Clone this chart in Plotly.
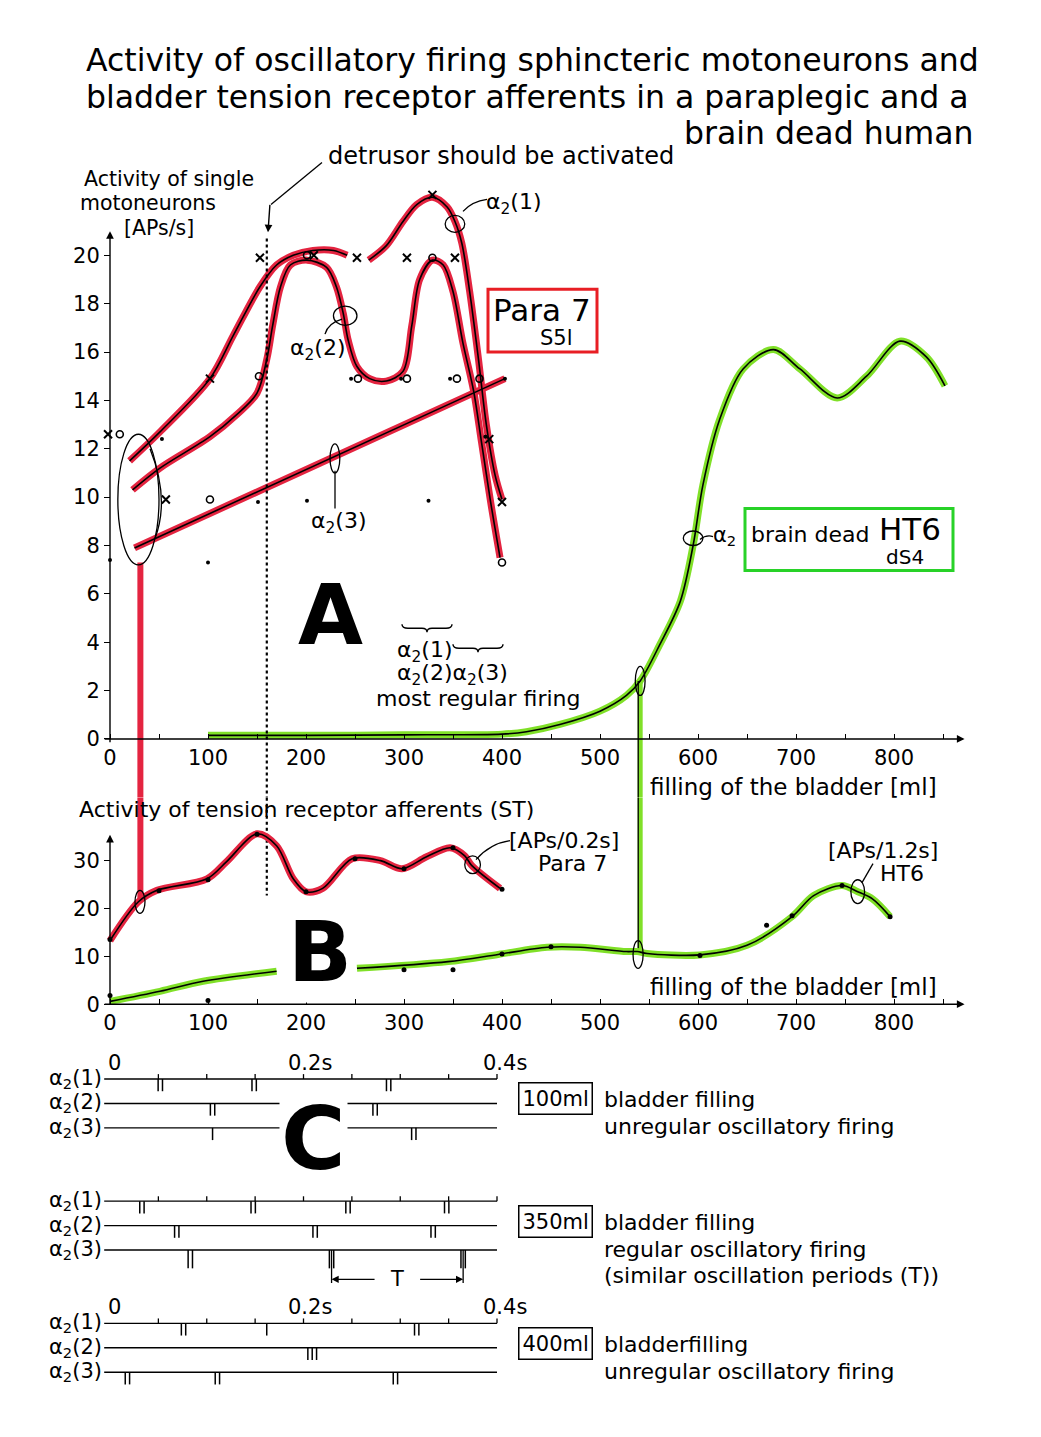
import plotly.graph_objects as go

W, H = 1041, 1437
FONT = "DejaVu Sans"
RED = "rgb(228, 36, 64)"
GREEN = "rgb(128, 224, 40)"
BOXRED = "rgb(232, 30, 36)"
BOXGREEN = "rgb(40, 210, 40)"

# ---------------- DATA ----------------
# Panel A: activity of single motoneurons [APs/s] vs. filling of the bladder [ml]
# Para 7 (paraplegic), alpha2(1)  (None = pen lifted)
a1_x = [20, 51, 102, 126, 153, 170, 187, 207, 228, 242, None, 264, 282, 299, 313, 329, 344, 352, 359, 367, 376, 384, 393, 400]
a1_y = [11.5, 12.7, 14.9, 16.7, 18.7, 19.6, 20.0, 20.2, 20.2, 20.0, None, 19.8, 20.4, 21.4, 22.1, 22.4, 22.0, 21.4, 20.5, 18.5, 15.7, 13.0, 10.9, 9.9]
# alpha2(2)
a2_x = [23, 51, 102, 129, 150, 160, 166, 174, 184, 201, 221, 231, 238, 243, 252, 265, 282, 299, 308, 316, 329, 340, 350, 360, 371, 379, 388, 398]
a2_y = [10.3, 11.2, 12.5, 13.4, 14.3, 15.7, 17.1, 18.7, 19.6, 19.8, 19.5, 18.7, 17.6, 16.5, 15.4, 14.9, 14.8, 15.2, 17.1, 19.0, 19.8, 19.6, 18.5, 16.4, 14.4, 12.3, 9.9, 7.5]
# alpha2(3)
a3_x = [25, 403]
a3_y = [7.9, 14.9]
# measured points
cross_x = [-2, 57, 102, 153, 208, 252, 303, 329, 352, 387, 400]
cross_y = [12.6, 9.9, 14.9, 19.9, 20.0, 19.9, 19.9, 22.5, 19.9, 12.4, 9.8]
ring_x = [10, 102, 152, 201, 253, 303, 329, 354, 377, 400]
ring_y = [12.6, 9.9, 15.0, 20.0, 14.9, 14.9, 19.9, 14.9, 14.9, 7.3]
dot_x = [0, 53, 100, 151, 201, 246, 297, 325, 347, 383, 403]
dot_y = [7.4, 12.4, 7.3, 9.8, 9.85, 14.9, 14.9, 9.85, 14.9, 12.5, 14.9]
# brain dead HT6, alpha2
gA_x = [100, 200, 300, 400, 425, 459, 500, 527, 541, 561, 582, 595, 605, 622, 646, 677, 704, 742, 772, 806, 833, 852]
gA_y = [0.15, 0.15, 0.17, 0.2, 0.3, 0.6, 1.15, 1.8, 2.4, 3.9, 5.7, 8.0, 10.5, 13.2, 15.3, 16.1, 15.3, 14.1, 15.0, 16.45, 15.8, 14.6]

# Panel B: activity of tension receptor afferents (ST)
rB_x = [0, 29, 48, 99, 119, 150, 170, 187, 200, 217, 247, 276, 298, 323, 347, 362, 369, 398]
rB_y = [13.3, 21.4, 23.8, 26.2, 29.8, 35.6, 33.1, 26.2, 23.5, 24.2, 30.4, 30.0, 28.3, 30.8, 32.7, 31.0, 29.0, 24.2]
rBpt_x = [0, 50, 100, 150, 200, 250, 300, 350, 400]
rBpt_y = [13.5, 23.7, 26.0, 35.5, 23.5, 30.4, 28.3, 32.7, 24.0]
gB_x = [0, 51, 95, 170, None, 252, 345, 396, 446, 480, 527, 538, 548, 602, 650, 696, 718, 747, 763, 778, 796]
gB_y = [0.6, 2.7, 4.8, 6.9, None, 7.5, 8.9, 10.4, 11.9, 11.9, 11.0, 11.0, 10.6, 10.3, 12.3, 18.3, 22.7, 24.8, 23.5, 22.0, 18.3]
gBpt_x = [0, 100, 300, 350, 400, 450, 602, 670, 696, 747, 796]
gBpt_y = [1.8, 0.8, 7.2, 7.2, 10.5, 12.0, 10.2, 16.5, 18.5, 24.8, 18.3]

# links between A and B (ml, value in A, value in B)
red_link = (31, 7.3, 22.0)
green_link = (541, 2.4, 11.0)
detrusor_ml = 160

x_ticks = list(range(0, 801, 100))
x_minor = list(range(50, 851, 100))
A_yticks = list(range(0, 21, 2))
B_yticks = [0, 10, 20, 30]

# Panel C: spike trains, 0 - 0.4 s  (time [s], number of spikes in burst)
C_rows = ["α<sub>2</sub>(1)", "α<sub>2</sub>(2)", "α<sub>2</sub>(3)"]
C_fill = ["100ml", "350ml", "400ml"]
C_spikes = [
    [[(0.052, 2), (0.149, 2), (0.288, 2)], [(0.106, 2), (0.274, 2)], [(0.106, 1), (0.314, 2)]],
    [[(0.033, 2), (0.148, 2), (0.246, 2), (0.348, 2)], [(0.069, 2), (0.212, 2), (0.334, 2)], [(0.083, 2), (0.229, 2), (0.365, 2)]],
    [[(0.076, 2), (0.162, 1), (0.317, 2)], [(0.209, 3)], [(0.018, 2), (0.111, 2), (0.295, 2)]],
]
C_period = (0.229, 0.365)
C_timeticks = [0.05 * k for k in range(1, 9)]
C_texts = [
    ["bladder filling", "unregular oscillatory firing"],
    ["bladder filling", "regular oscillatory firing", "(similar oscillation periods (T))"],
    ["bladderfilling", "unregular oscillatory firing"],
]

# ---------------- GEOMETRY ----------------
OFF = 8  # page body margin


def PX(x):
    return (x - OFF) / W


def PY(y):
    return 1 - (y - OFF) / H


X0_PX, ML_PX = 110, 0.98
XR = [-20, 880]
x_dom = [PX(X0_PX + XR[0] * ML_PX), PX(X0_PX + XR[1] * ML_PX)]
A_Y0, A_K = 741, 24.25
A_TOP, SPLIT, B_BOT = 180, 800, 1015
A_rng = [(A_Y0 - SPLIT) / A_K, (A_Y0 - A_TOP) / A_K]
B_Y0, B_K = 1007, 4.8
B_rng = [(B_Y0 - B_BOT) / B_K, (B_Y0 - SPLIT) / B_K]
T0_PX, T_K = 110, 967.5
C_XPX = [40, 1000]
C_xr = [(C_XPX[0] - T0_PX) / T_K, (C_XPX[1] - T0_PX) / T_K]
R0_PX, R_K = 1082, 24.5
C_YPX = [1045, 1420]
C_yr = [(C_YPX[1] - R0_PX) / R_K, (C_YPX[0] - R0_PX) / R_K]

fig = go.Figure()


def line(xs, ys, color, width, xa="x", ya="y", dash=None, shape="spline"):
    fig.add_trace(go.Scatter(x=xs, y=ys, mode="lines", xaxis=xa, yaxis=ya,
                             line=dict(color=color, width=width, shape=shape, dash=dash, smoothing=0.9),
                             hoverinfo="skip", showlegend=False, connectgaps=False))


def marks(xs, ys, symbol, size, lw, xa="x", ya="y"):
    fig.add_trace(go.Scatter(x=xs, y=ys, mode="markers", xaxis=xa, yaxis=ya, cliponaxis=False,
                             marker=dict(symbol=symbol, size=size, color="black",
                                         line=dict(color="black", width=lw)),
                             hoverinfo="skip", showlegend=False))


def text(s, x, y, size=22, xanchor="left", yanchor="middle", **kw):
    fig.add_annotation(text=s, x=PX(x), y=PY(y), xref="paper", yref="paper", showarrow=False,
                       xanchor=xanchor, yanchor=yanchor,
                       font=dict(family=FONT, size=size, color="black"), **kw)


def path(points, width=1.3, color="black"):
    d = "M " + " L ".join(f"{PX(a):.5f},{PY(b):.5f}" for a, b in points)
    fig.add_shape(type="path", path=d, xref="paper", yref="paper",
                  line=dict(color=color, width=width))


def qpath(d_px, width=1.3):
    out = []
    for cmd, pts in d_px:
        out.append(cmd + " " + " ".join(f"{PX(a):.5f},{PY(b):.5f}" for a, b in pts))
    fig.add_shape(type="path", path=" ".join(out), xref="paper", yref="paper",
                  line=dict(color="black", width=width))


def rect_px(x0, y0, x1, y1, color, width):
    fig.add_shape(type="rect", xref="paper", yref="paper", x0=PX(x0), x1=PX(x1), y0=PY(y1), y1=PY(y0),
                  line=dict(color=color, width=width))


def ellipse(x0, x1, y0, y1, xa="x", ya="y", width=1.3):
    fig.add_shape(type="circle", xref=xa, yref=ya, x0=x0, x1=x1, y0=y0, y1=y1,
                  line=dict(color="black", width=width))


def arrow(x, y, ax, ay, xa, ya, width=1.4, head=2):
    fig.add_annotation(x=x, y=y, ax=ax, ay=ay, xref=xa, yref=ya, axref=xa, ayref=ya, text="",
                       showarrow=True, arrowhead=head, arrowsize=1.1, arrowwidth=width, arrowcolor="black")


# ---------------- PANEL A ----------------
for xs, ys in [(a1_x, a1_y), (a2_x, a2_y), (a3_x, a3_y)]:
    line(xs, ys, RED, 7)
line(gA_x, gA_y, GREEN, 7)
line([red_link[0], red_link[0]], [red_link[1], A_rng[0]], RED, 6, shape="linear")
line([red_link[0], red_link[0]], [B_rng[1], red_link[2]], RED, 6, "x2", "y2", shape="linear")
line([green_link[0], green_link[0]], [green_link[1], A_rng[0]], GREEN, 5, shape="linear")
line([green_link[0], green_link[0]], [B_rng[1], green_link[2]], GREEN, 5, "x2", "y2", shape="linear")
for xs, ys in [(a1_x, a1_y), (a2_x, a2_y), (a3_x, a3_y), (gA_x, gA_y)]:
    line(xs, ys, "black", 1.6)
line([green_link[0] - 2, green_link[0] - 2], [green_link[1], A_rng[0]], "black", 1.3, shape="linear")
line([green_link[0] - 2, green_link[0] - 2], [B_rng[1], green_link[2]], "black", 1.3, "x2", "y2", shape="linear")
line([detrusor_ml, detrusor_ml], [20.7, A_rng[0]], "black", 2.2, dash="dot", shape="linear")
line([detrusor_ml, detrusor_ml], [B_rng[1], 22.7], "black", 2.2, "x2", "y2", dash="dot", shape="linear")

marks(cross_x, cross_y, "x-thin", 8, 2)
marks(ring_x, ring_y, "circle-open", 7, 1.6)
marks(dot_x, dot_y, "circle", 4, 0)

ellipse(8, 50, 7.2, 12.6)
qpath([("M", [(150, 450)]), ("Q", [(170, 500), (155, 540)])])
ellipse(224.5, 234.5, 11.0, 12.2)
ellipse(228, 252, 17.1, 17.9)
ellipse(342, 362, 20.95, 21.65)
ellipse(536, 546, 1.8, 3.0)
ellipse(585, 605, 8.0, 8.6)

# ---------------- PANEL B ----------------
line(rB_x, rB_y, RED, 7, "x2", "y2")
line(gB_x, gB_y, GREEN, 7, "x2", "y2")
line(rB_x, rB_y, "black", 1.6, "x2", "y2")
line(gB_x, gB_y, "black", 1.6, "x2", "y2")
marks(rBpt_x, rBpt_y, "circle", 5, 0, "x2", "y2")
marks(gBpt_x, gBpt_y, "circle", 5, 0, "x2", "y2")
ellipse(25.5, 35.7, 19.0, 23.8, "x2", "y2")
ellipse(533.7, 544, 7.5, 13.3, "x2", "y2")
ellipse(362, 378, 27.3, 31.0, "x2", "y2")
ellipse(756, 770, 21, 26, "x2", "y2")

arrow(872, 0, -7, 0, "x", "y")
arrow(0, 21.0, 0, -0.2, "x", "y")
arrow(872, 0, -7, 0, "x2", "y2")
arrow(0, 35.4, 0, -0.5, "x2", "y2")

# ---------------- PANEL C ----------------
rows_y = []
for g in range(3):
    for r in range(3):
        rows_y.append(g * 5 + r)
lx, ly = [], []
for r in rows_y:
    lx += [-0.006, 0.4, None]
    ly += [r, r, None]
line(lx, ly, "black", 1.4, "x3", "y3", shape="linear")
tx, ty = [], []
for g in range(3):
    for t in C_timeticks:
        tx += [t, t, None]
        ty += [g * 5, g * 5 - 0.2, None]
line(tx, ty, "black", 1.3, "x3", "y3", shape="linear")
sx, sy = [], []
for g, group in enumerate(C_spikes):
    for r, train in enumerate(group):
        base = g * 5 + r
        h = 0.75 if (g == 1 and r == 2) else 0.5
        for t, n in train:
            for i in range(n):
                xx = t + (i - (n - 1) / 2) * 0.0045
                sx += [xx, xx, None]
                sy += [base, base + h, None]
line(sx, sy, "black", 1.5, "x3", "y3", shape="linear")
for t in C_period:
    line([t, t], [7, 8.35], "black", 1.3, "x3", "y3", shape="linear")
mid = sum(C_period) / 2
arrow(C_period[0], 8.2, mid - 0.022, 8.2, "x3", "y3", width=1.3, head=2)
arrow(C_period[1], 8.2, mid + 0.022, 8.2, "x3", "y3", width=1.3, head=2)
fig.add_annotation(x=mid, y=8.2, xref="x3", yref="y3", text="T", showarrow=False,
                   font=dict(family=FONT, size=21, color="black"))
for g in range(3):
    for r in range(3):
        fig.add_annotation(x=-0.006, y=g * 5 + r, xref="x3", yref="y3", text=C_rows[r], showarrow=False,
                           xanchor="right", yanchor="middle", font=dict(family=FONT, size=21, color="black"))
for g in (0, 2):
    for t, s, sh in [(0, "0", 4), (0.2, "0.2s", 6), (0.4, "0.4s", 8)]:
        fig.add_annotation(x=t, y=g * 5 - 0.1, xref="x3", yref="y3", text=s, showarrow=False,
                           xanchor="center", yanchor="bottom", xshift=sh,
                           font=dict(family=FONT, size=21, color="black"))
for g in range(3):
    yc = R0_PX + R_K * (g * 5) + 20
    fig.add_annotation(x=PX(555), y=PY(yc), xref="paper", yref="paper", text=C_fill[g], showarrow=False,
                       xanchor="center", yanchor="middle",
                       font=dict(family=FONT, size=21, color="black"), bordercolor="black",
                       borderwidth=1.5, borderpad=3)
    for k, s in enumerate(C_texts[g]):
        text(s, 602, yc + 1 + 27 * k, size=22)

# ---------------- TEXTS ----------------
text("Activity of oscillatory firing sphincteric motoneurons and", 84, 60, size=31.5)
text("bladder tension receptor afferents in a paraplegic and a", 84, 97, size=31.5)
text("brain dead human", 976, 133, size=31.5, xanchor="right")
text("detrusor should be activated", 326, 156, size=24)
path([(322, 163), (271, 205)])
fig.add_annotation(x=PX(268), y=PY(233), ax=2, ay=-29, xref="paper", yref="paper",
                   text="", showarrow=True, arrowhead=2,
                   arrowsize=1.1, arrowwidth=1.4, arrowcolor="black")
text("Activity of single", 82, 179, size=20.5)
text("motoneurons", 78, 204, size=20.5)
text("[APs/s]", 122, 229, size=20.5)
text("α<sub>2</sub>(1)", 484, 204, size=22)
qpath([("M", [(463, 212)]), ("Q", [(472, 202), (487, 200)])])
text("α<sub>2</sub>(2)", 317, 350, size=22, xanchor="center")
qpath([("M", [(342, 320)]), ("Q", [(328, 324), (325, 335)])])
text("α<sub>2</sub>(3)", 338, 524, size=22, xanchor="center")
path([(335, 472), (335, 510)])

rect_px(488, 290, 597, 353, BOXRED, 3)
text("Para 7", 542, 311, size=31, xanchor="center")
text("S5l", 556, 339, size=21, xanchor="center")
rect_px(745, 510, 953, 572, BOXGREEN, 3)
text("brain dead", 749, 536, size=22)
text("HT6", 877, 530, size=31)
text("dS4", 884, 559, size=20)
text("α<sub>2</sub>", 711, 537, size=21)
qpath([("M", [(700, 541)]), ("Q", [(706, 536), (713, 538)])])

text("<b>A</b>", 330, 617, size=84, xanchor="center")
text("<b>B</b>", 320, 955, size=84, xanchor="center", bgcolor="white")
text("<b>C</b>", 313, 1142, size=88, xanchor="center", bgcolor="white")

text("α<sub>2</sub>(1)", 395, 653, size=22)
text("α<sub>2</sub>(2)α<sub>2</sub>(3)", 395, 676, size=22)
text("most regular firing", 374, 700, size=22)


def brace(x0, x1, y, d):
    xm = (x0 + x1) / 2
    qpath([("M", [(x0, y)]), ("Q", [(x0, y + d / 2), (x0 + 6, y + d / 2)]),
           ("L", [(xm - 5, y + d / 2)]), ("Q", [(xm, y + d / 2), (xm, y + d)]),
           ("Q", [(xm, y + d / 2), (xm + 5, y + d / 2)]), ("L", [(x1 - 6, y + d / 2)]),
           ("Q", [(x1, y + d / 2), (x1, y)])], width=1.4)


brace(402, 452, 626, 8)
brace(453, 503, 646, 8)

text("filling of the bladder [ml]", 648, 789, size=23)
text("Activity of tension receptor afferents (ST)", 77, 812, size=22)
text("[APs/0.2s]", 507, 843, size=22)
text("Para 7", 609, 866, size=22, xanchor="right")
qpath([("M", [(476, 862)]), ("Q", [(490, 846), (510, 843)])])
text("[APs/1.2s]", 826, 853, size=22)
text("HT6", 878, 876, size=22)
path([(862, 885), (873, 866)])
text("filling of the bladder [ml]", 648, 990, size=23)

# ---------------- LAYOUT ----------------
axis_common = dict(showgrid=False, zeroline=False, showline=False, tickcolor="black", tickwidth=1.4,
                   tickfont=dict(family=FONT, size=21, color="black"), fixedrange=True)
minor_x = dict(tickvals=x_minor, ticks="inside", ticklen=5, tickcolor="black", tickwidth=1.4, showgrid=False)
fig.update_layout(
    width=W, height=H, autosize=False, margin=dict(l=0, r=0, t=0, b=0),
    paper_bgcolor="white", plot_bgcolor="white", showlegend=False,
    xaxis=dict(domain=x_dom, range=XR, anchor="free", position=PY(A_Y0), ticks="inside", ticklen=5,
               tickvals=x_ticks, minor=minor_x, ticklabelstandoff=4, **axis_common),
    yaxis=dict(domain=[PY(SPLIT), PY(A_TOP)], range=A_rng, anchor="free", position=PX(X0_PX),
               ticks="outside", ticklen=6, tickvals=A_yticks, **axis_common),
    xaxis2=dict(domain=x_dom, range=XR, anchor="free", position=PY(B_Y0), ticks="inside", ticklen=5,
                tickvals=x_ticks, minor=minor_x, ticklabelstandoff=4, **axis_common),
    yaxis2=dict(domain=[PY(B_BOT), PY(SPLIT)], range=B_rng, anchor="free", position=PX(X0_PX),
                ticks="outside", ticklen=6, tickvals=B_yticks, **axis_common),
    xaxis3=dict(domain=[PX(C_XPX[0]), PX(C_XPX[1])], range=C_xr, visible=False, anchor="y3"),
    yaxis3=dict(domain=[PY(C_YPX[1]), PY(C_YPX[0])], range=C_yr, visible=False, anchor="x3"),
)
fig.write_html("out.html")
